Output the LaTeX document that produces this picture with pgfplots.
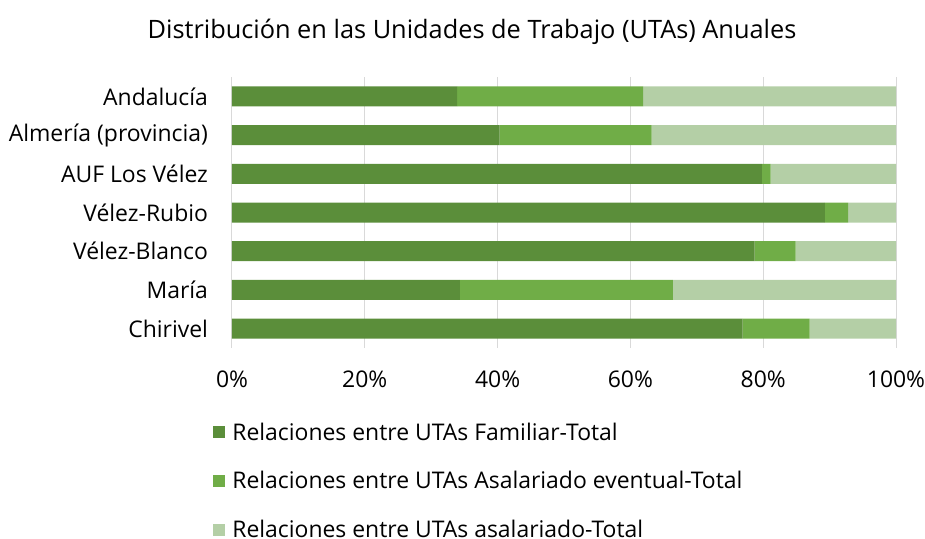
\documentclass[border=0pt]{standalone}
\usepackage{fontspec}
\setmainfont{Open Sans}
\usepackage{pgfplots}
\pgfplotsset{compat=1.18}
\definecolor{cA}{HTML}{5B8E3A}
\definecolor{cB}{HTML}{70AD47}
\definecolor{cC}{HTML}{B4CFA6}
\definecolor{gridc}{HTML}{D9D9D9}
\begin{document}
\begin{tikzpicture}
\path[use as bounding box] (0pt,0pt) rectangle (693.75pt,404.25pt);
\node[font=\fontsize{19}{21}\selectfont] at (354pt,380.5pt) {Distribución en las Unidades de Trabajo (UTAs) Anuales};
\begin{axis}[
  at={(174pt,143.25pt)}, anchor=south west,
  scale only axis, width=498pt, height=203.25pt,
  xbar stacked, bar width=15pt,
  xmin=0, xmax=100, ymin=-0.5, ymax=6.5,
  xtick={0,20,40,60,80,100},
  xticklabels={0\%,20\%,40\%,60\%,80\%,100\%},
  ytick={0,1,2,3,4,5,6},
  yticklabels={Chirivel,María,Vélez-Blanco,Vélez-Rubio,AUF Los Vélez,Almería (provincia),Andalucía\hspace{4.5pt}},
  axis line style={draw=none}, tick style={draw=none},
  xmajorgrids, grid style={gridc, line width=0.75pt},
  ticklabel style={font=\fontsize{17.2}{19}\selectfont},
  xticklabel style={yshift=-13.5pt},
  yticklabel style={xshift=-14.5pt},
  /pgf/number format/assume math mode=true,
  legend style={at={(-0.0355,-0.255)}, anchor=north west, draw=none, fill=none,
    font=\fontsize{17.2}{19}\selectfont, row sep=18pt},
  legend cell align=left,
  legend image code/.code={\fill[#1] (0pt,-4.5pt) rectangle (9pt,4.5pt); \path (12.75pt,0pt);},
]
\addplot[fill=cA, draw=none] coordinates {(76.9,0) (34.3,1) (78.7,2) (89.3,3) (79.8,4) (40.3,5) (33.9,6)};
\addplot[fill=cB, draw=none] coordinates {(10.1,0) (32.1,1) (6.2,2) (3.5,3) (1.3,4) (22.9,5) (28.0,6)};
\addplot[fill=cC, draw=none] coordinates {(13.0,0) (33.6,1) (15.1,2) (7.2,3) (18.9,4) (36.8,5) (38.1,6)};
\legend{Relaciones entre UTAs Familiar-Total, Relaciones entre UTAs Asalariado eventual-Total, Relaciones entre UTAs asalariado-Total}
\end{axis}
\end{tikzpicture}
\end{document}
